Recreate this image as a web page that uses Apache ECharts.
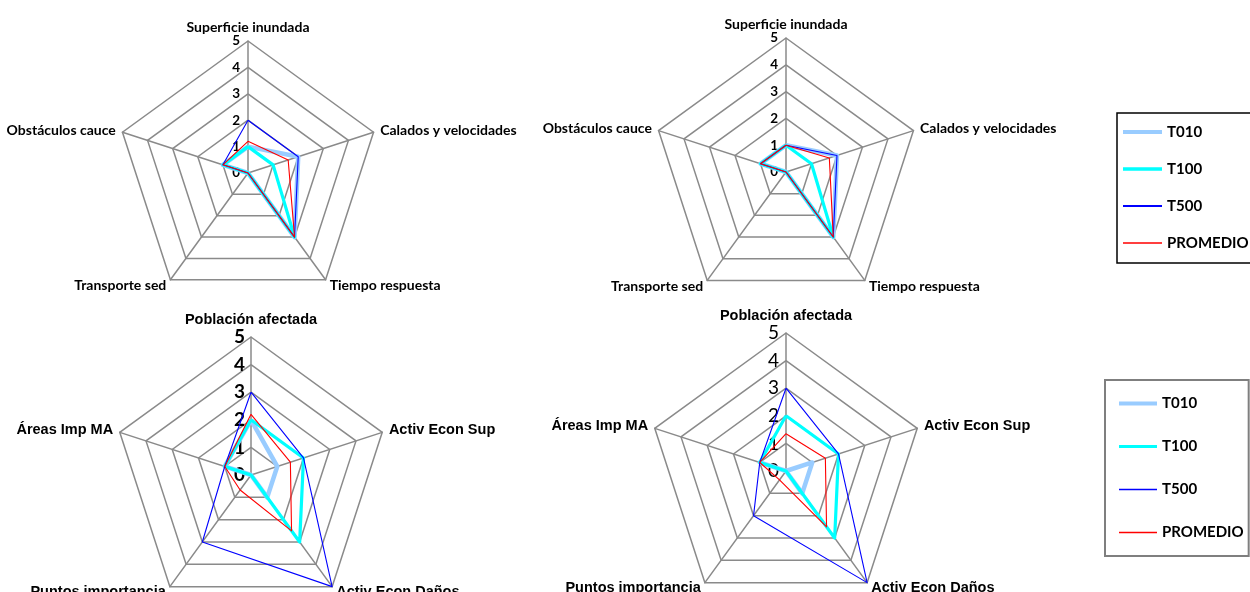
<!DOCTYPE html>
<html>
<head>
<meta charset="utf-8">
<script src="https://cdn.jsdelivr.net/npm/echarts@6/dist/echarts.min.js"></script>
<style>
  html, body { margin: 0; padding: 0; background: #ffffff; }
  #chart { width: 1250px; height: 592px; }
</style>
</head>
<body>
<div id="chart"></div>
<script>
// Periods compared in every radar, and the averaged profile
const seriesNames = ['T010', 'T100', 'T500', 'PROMEDIO'];

// Axes of the channel radars (counter-clockwise from the top)
const ejesCauce = ['Superficie inundada', 'Obstáculos cauce', 'Transporte sed', 'Tiempo respuesta', 'Calados y velocidades'];
// Axes of the damage radars (counter-clockwise from the top)
const ejesDanos = ['Población afectada', 'Áreas Imp MA', 'Puntos importancia', 'Activ Econ Daños', 'Activ Econ Sup'];

// Scale shared by all radars: 0 .. 5 in unit steps
const escalaMax = 5;
const escalaPasos = 5;

// Channel radar, left
const cauceIzq_T010 = [1, 1, 0, 3, 2];
const cauceIzq_T100 = [1, 1, 0, 3, 1];
const cauceIzq_T500 = [2, 1, 0, 3, 2];
const cauceIzq_PROMEDIO = [1.2, 1, 0, 3, 1.6];

// Channel radar, right
const cauceDer_T010 = [1, 1, 0, 3, 2];
const cauceDer_T100 = [1, 1, 0, 3, 1];
const cauceDer_T500 = [1, 1, 0, 3, 2];
const cauceDer_PROMEDIO = [1, 1, 0, 3, 1.7];

// Damage radar, left
const danosIzq_T010 = [2, 1, 0, 1, 1];
const danosIzq_T100 = [2, 1, 0, 3, 2];
const danosIzq_T500 = [3, 1, 3, 5, 2];
const danosIzq_PROMEDIO = [2.2, 1, 0.67, 2.5, 1.5];

// Damage radar, right
const danosDer_T010 = [0, 1, 0, 1, 1];
const danosDer_T100 = [2, 1, 0, 3, 2];
const danosDer_T500 = [3, 1, 2, 5, 2];
const danosDer_PROMEDIO = [1.35, 1, 0.4, 2.5, 1.5];

// Line look of each period
const estilos = {
  T010: { color: '#99CCFF', width: 4.5 },
  T100: { color: '#00FFFF', width: 3.2 },
  T500: { color: '#0000FF', width: 1.1 },
  PROMEDIO: { color: '#FF0000', width: 1.1 }
};

const GRID = '#8a8a8a';

function radarCfg(center, radius, ejes, nameStyle, tickStyle, tickGap) {
  return {
    center: center,
    radius: radius,
    startAngle: 90,
    shape: 'polygon',
    splitNumber: escalaPasos,
    nameGap: 7,
    axisName: Object.assign({ color: '#000000' }, nameStyle),
    axisLine: { show: true, lineStyle: { color: GRID, width: 1.5 } },
    splitLine: { show: true, lineStyle: { color: GRID, width: 1.5 } },
    splitArea: { show: false },
    axisTick: { show: false },
    axisLabel: { show: false },
    indicator: ejes.map(function (n, i) {
      const ind = { name: n, min: 0, max: escalaMax };
      if (i === 0) {
        // Scale numbers sit just to the left of the vertical axis
        ind.axisLabel = Object.assign({
          show: true, color: '#000000', margin: 0,
          align: 'right', verticalAlign: 'middle', padding: [0, tickGap, 0, 0]
        }, tickStyle);
      }
      return ind;
    })
  };
}

function radarSeries(idx, valores) {
  return {
    type: 'radar',
    radarIndex: idx,
    symbol: 'none',
    silent: true,
    data: seriesNames.map(function (n, k) {
      return {
        name: n,
        value: valores[k],
        itemStyle: { color: estilos[n].color },
        lineStyle: { color: estilos[n].color, width: estilos[n].width }
      };
    })
  };
}

// Legend swatch: a bar of the given thickness centred in a 10-unit tall box
function barIcon(th) {
  const y0 = (10 - th) / 2;
  return 'path://M0 0h0.01v0.01H0z M0 ' + y0 + 'h40v' + th + 'H0z M0 9.99h0.01V10H0z';
}
const grosorLeyenda = { T010: 4, T100: 3.4, T500: 1.8, PROMEDIO: 1.5 };
const legendData = seriesNames.map(function (n) {
  return { name: n, icon: barIcon(grosorLeyenda[n]) };
});

const fuenteCauce = { fontFamily: 'Lato', fontWeight: 'bold', fontSize: 14 };
const fuenteDanos = { fontFamily: 'Liberation Sans', fontWeight: 'bold', fontSize: 14.5 };
const leyendaTexto = { fontFamily: 'Lato', fontWeight: 'bold', fontSize: 15, color: '#000000' };

const chart = echarts.init(document.getElementById('chart'), null, { renderer: 'canvas' });
chart.setOption({
  animation: false,
  backgroundColor: '#ffffff',
  radar: [
    radarCfg([248, 173], 132, ejesCauce, fuenteCauce, { fontFamily: 'Lato', fontWeight: 'bold', fontSize: 13.5 }, 8),
    radarCfg([786, 172], 134, ejesCauce, fuenteCauce, { fontFamily: 'Lato', fontWeight: 'bold', fontSize: 13.5 }, 8),
    radarCfg([251, 475], 138, ejesDanos, fuenteDanos, { fontFamily: 'Lato', fontWeight: 'bold', fontSize: 19 }, 6),
    radarCfg([786, 471], 138, ejesDanos, fuenteDanos, { fontFamily: 'Lato', fontWeight: 'normal', fontSize: 19 }, 7)
  ],
  legend: [
    {
      data: legendData,
      orient: 'vertical',
      left: 1117,
      top: 113,
      padding: [11.5, 6, 12.5, 6],
      itemGap: 22,
      itemWidth: 39,
      itemHeight: 10,
      borderColor: '#000000',
      borderWidth: 1.5,
      selectedMode: false,
      itemStyle: { borderWidth: 0 },
      textStyle: leyendaTexto
    },
    {
      data: legendData,
      orient: 'vertical',
      left: 1105,
      top: 380,
      padding: [16, 5, 16, 14],
      itemGap: 28,
      itemWidth: 38,
      itemHeight: 10,
      borderColor: '#7f7f7f',
      borderWidth: 2,
      selectedMode: false,
      itemStyle: { borderWidth: 0 },
      textStyle: leyendaTexto
    }
  ],
  series: [
    radarSeries(0, [cauceIzq_T010, cauceIzq_T100, cauceIzq_T500, cauceIzq_PROMEDIO]),
    radarSeries(1, [cauceDer_T010, cauceDer_T100, cauceDer_T500, cauceDer_PROMEDIO]),
    radarSeries(2, [danosIzq_T010, danosIzq_T100, danosIzq_T500, danosIzq_PROMEDIO]),
    radarSeries(3, [danosDer_T010, danosDer_T100, danosDer_T500, danosDer_PROMEDIO])
  ]
});
</script>
</body>
</html>
